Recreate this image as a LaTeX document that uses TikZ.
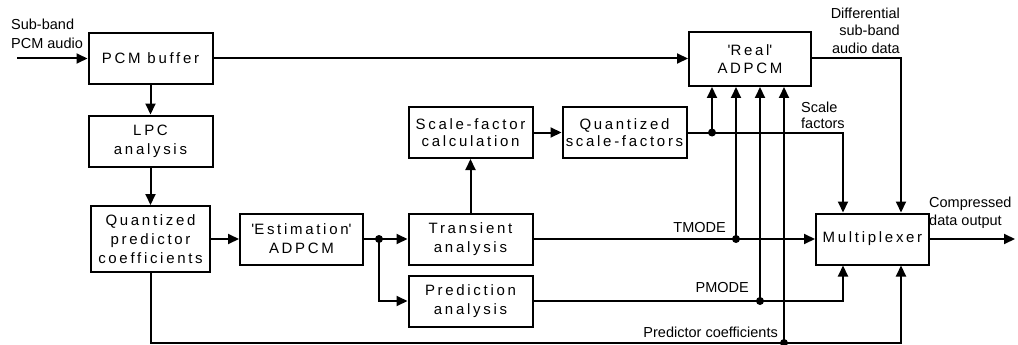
\documentclass[tikz,border=0pt]{standalone}
\usepackage{fontspec}
\usetikzlibrary{arrows.meta}
\newfontfamily\blkfont[LetterSpace=18]{Liberation Sans}
\newfontfamily\lblfont{Liberation Sans}

\begin{document}
\begin{tikzpicture}[x=1pt, y=-1pt,
  blk/.style={draw, line width=2pt, minimum width=124pt, minimum height=51pt,
    inner sep=0pt, align=center, font=\blkfont\fontsize{15}{19}\selectfont},
  lbl/.style={inner sep=0pt, font=\lblfont\fontsize{14.5}{17.5}\selectfont},
  arr/.style={line width=2pt, -{Triangle[length=11pt, width=10pt]}},
  line/.style={line width=2pt},
  dot/.style={fill, circle, inner sep=0pt, minimum size=8pt}]
\useasboundingbox (0,0) rectangle (1018,345);

\node[blk] (pcm) at (150.5,58.5) {PCM buffer};
\node[blk] (lpc) at (150.5,141) {LPC\\analysis};
\node[blk, minimum width=119pt, minimum height=66pt] (qpc) at (150.5,239) {Quantized\\predictor\\coefficients};
\node[blk, minimum width=123pt] (est) at (301.5,239) {\textquotesingle Estimation\textquotesingle\\ADPCM};
\node[blk] (trans) at (470.5,239) {Transient\\analysis};
\node[blk] (pred) at (470.5,301) {Prediction\\analysis};
\node[blk, font=\blkfont\fontsize{15}{17}\selectfont] (sfc) at (470.5,132.5) {Scale-factor\\calculation};
\node[blk, font=\blkfont\fontsize{15}{17}\selectfont] (qsf) at (624.5,132.5) {Quantized\\scale-factors};
\node[blk, minimum width=122pt, minimum height=54pt, font=\blkfont\fontsize{15}{18}\selectfont] (real) at (750,59) {\textquotesingle Real\textquotesingle\\ADPCM};
\node[blk, minimum width=113pt] (mux) at (872.5,239) {Multiplexer};

% labels
\node[lbl, anchor=north west, align=left, font=\lblfont\fontsize{14.5}{19}\selectfont] (inlbl) at (11,18.5) {Sub-band\\PCM audio};
\node[lbl, anchor=north east, align=right] (difflbl) at (900,7.5) {Differential\\sub-band\\audio data};
\node[lbl, anchor=north west, align=left, font=\lblfont\fontsize{14.5}{15.5}\selectfont] (sflbl) at (801,102) {Scale\\factors};
\node[lbl, anchor=base east] (tlbl) at (726,232) {TMODE};
\node[lbl, anchor=base east] (plbl) at (749,292) {PMODE};
\node[lbl, anchor=base east] (clbl) at (778,337) {Predictor coefficients};
\node[lbl, anchor=north west, align=left] (outlbl) at (929,197) {Compressed\\data output};

% junctions and corners
\coordinate (in) at (17,58.5);
\coordinate (out) at (1015,239);
\coordinate (edot) at (379,239);
\coordinate (sfdot) at (712,132.5);
\coordinate (sfcorner) at (843,132.5);
\coordinate (dfcorner) at (901,58.5);
\coordinate (tdot) at (736,239);
\coordinate (pdot) at (760,301);
\coordinate (pcorner) at (843,301);
\coordinate (cdot) at (784,343);
\coordinate (ccorner) at (901,343);

\draw[arr] (in) -- (pcm);
\draw[arr] (pcm) -- (pcm -| real.west);
\draw[arr] (pcm) -- (lpc);
\draw[arr] (lpc) -- (qpc);
\draw[arr] (qpc) -- (est);
\draw[line] (est) -- (edot);
\draw[arr] (edot) -- (trans);
\draw[arr] (edot) |- (pred);
\draw[arr] (trans) -- (sfc);
\draw[arr] (sfc) -- (qsf);
\draw[arr] (qsf) -- (sfcorner) -- (sfcorner |- mux.north);
\draw[arr] (sfdot) -- (sfdot |- real.south);
\draw[arr] (real.east |- dfcorner) -- (dfcorner) -- (dfcorner |- mux.north);
\draw[arr] (trans) -- (mux);
\draw[arr] (tdot) -- (tdot |- real.south);
\draw[arr] (pred) -- (pcorner) -- (pcorner |- mux.south);
\draw[arr] (pdot) -- (pdot |- real.south);
\draw[arr] (qpc) |- (ccorner) -- (ccorner |- mux.south);
\draw[arr] (cdot) -- (cdot |- real.south);
\draw[arr] (mux) -- (out);

\foreach \d in {edot, sfdot, tdot, pdot, cdot}
  \node[dot] at (\d) {};

\end{tikzpicture}
\end{document}
